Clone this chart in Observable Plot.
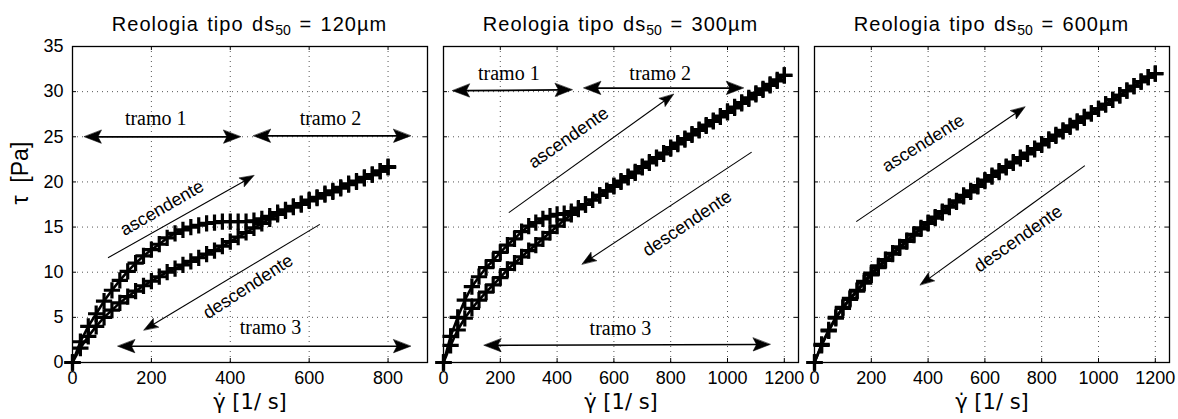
<!DOCTYPE html>
<html><head><meta charset="utf-8">
<script src="https://cdn.jsdelivr.net/npm/d3@7"></script>
<script src="https://cdn.jsdelivr.net/npm/@observablehq/plot@0.6"></script>
<style>
body{margin:0;background:#fff;}
#wrap{position:relative;width:1178px;height:419px;overflow:hidden;font-family:"Liberation Sans",Arial,sans-serif;color:#000;}
.panel{position:absolute;top:0;}
.title{height:40px;box-sizing:border-box;padding-top:12px;line-height:24px;font-size:20px;font-weight:normal;text-align:center;letter-spacing:1px;word-spacing:2px;white-space:nowrap;}
.title sub{font-size:14px;vertical-align:-4px;line-height:0;letter-spacing:0;}
</style></head>
<body><div id="wrap"></div>
<script>
// ---------- data ----------
const sizes = ["120µm", "300µm", "600µm"];
const yTicks = [0, 5, 10, 15, 20, 25, 30, 35];
const xTicks1 = [0, 200, 400, 600, 800];
const xTicks23 = [0, 200, 400, 600, 800, 1000, 1200];
const xLabel = "γ̇ [1/ s]";
const yLabel = "τ  [Pa]";

// ds50 = 120 µm
const shear1 = [0,20,40,60,80,100,120,140,160,180,200,220,240,260,280,300,320,340,360,380,400,420,440,460,480,500,520,540,560,580,600,620,640,660,680,700,720,740,760,780,800];
const up1 = [0,2.3,4.0,5.4,6.8,8.0,9.1,10.1,11.0,11.8,12.5,13.1,13.8,14.3,14.7,15.0,15.2,15.4,15.5,15.6,15.6,15.6,15.6,15.7,15.9,16.2,16.6,16.9,17.3,17.6,18.0,18.3,18.7,19.0,19.4,19.8,20.1,20.5,20.8,21.2,21.7];
const down1 = [0,1.6,2.9,4.0,5.0,5.8,6.6,7.3,7.9,8.5,9.0,9.5,10.0,10.4,10.8,11.2,11.6,12.0,12.4,12.9,13.4,13.9,14.4,14.9,15.4,15.9,16.4,16.8,17.2,17.5,17.9,18.2,18.6,18.9,19.3,19.7,20.0,20.4,20.8,21.2,21.6];

// ds50 = 300 µm
const shear2 = [0,25,50,75,100,125,150,175,200,225,250,275,300,325,350,375,400,425,450,475,500,525,550,575,600,625,650,675,700,725,750,775,800,825,850,875,900,925,950,975,1000,1025,1050,1075,1100,1125,1150,1175,1200];
const up2 = [0,2.9,5.0,6.9,8.4,9.5,10.5,11.3,12.2,13.0,13.7,14.5,15.1,15.5,15.9,16.2,16.4,16.5,16.7,17.1,17.5,18.0,18.5,19.0,19.6,20.1,20.6,21.1,21.7,22.2,22.7,23.2,23.8,24.3,24.8,25.3,25.8,26.3,26.8,27.3,27.8,28.3,28.8,29.3,29.8,30.3,30.8,31.3,31.8];
const down2 = [0,1.9,3.6,4.9,6.0,6.9,7.8,8.6,9.4,10.3,11.0,11.7,12.4,13.0,13.7,14.4,15.1,15.8,16.4,17.0,17.5,18.0,18.5,19.0,19.5,20.0,20.5,21.0,21.6,22.1,22.6,23.1,23.7,24.2,24.7,25.2,25.7,26.2,26.7,27.2,27.7,28.2,28.7,29.2,29.7,30.2,30.7,31.2,31.8];

// ds50 = 600 µm
const shear3 = [0,25,50,75,100,125,150,175,200,225,250,275,300,325,350,375,400,425,450,475,500,525,550,575,600,625,650,675,700,725,750,775,800,825,850,875,900,925,950,975,1000,1025,1050,1075,1100,1125,1150,1175,1200];
const up3 = [0,2.0,3.6,5.0,6.1,7.1,8.0,9.0,9.9,10.7,11.4,12.1,12.8,13.5,14.2,14.9,15.5,16.1,16.7,17.3,17.9,18.5,19.0,19.6,20.2,20.7,21.2,21.7,22.2,22.7,23.2,23.7,24.2,24.7,25.2,25.7,26.2,26.7,27.2,27.6,28.1,28.6,29.1,29.6,30.1,30.6,31.1,31.6,32.0];
const down3 = [0,1.9,3.5,4.9,6.0,7.0,7.9,8.8,9.7,10.5,11.3,12.0,12.7,13.4,14.1,14.8,15.4,16.0,16.6,17.2,17.8,18.4,18.9,19.5,20.1,20.6,21.1,21.6,22.1,22.6,23.1,23.6,24.1,24.6,25.1,25.6,26.1,26.6,27.1,27.6,28.1,28.6,29.1,29.6,30.1,30.6,31.1,31.6,32.0];

// annotations (data coordinates)
const arrows1 = [
  {x1:30, y1:25.0, x2:426, y2:25.0, both:true},
  {x1:459, y1:25.1, x2:857, y2:25.1, both:true},
  {x1:115, y1:1.8, x2:857, y2:1.8, both:true},
  {x1:90, y1:11.6, x2:460, y2:20.7},
  {x1:627, y1:15.3, x2:181, y2:3.6}
];
const tramo1 = [{x:211, y:27.0, text:"tramo 1"}, {x:654, y:27.0, text:"tramo 2"}, {x:502, y:3.9, text:"tramo 3"}];
const words1 = [{x:227, y:17.1, text:"ascendente"}, {x:445, y:8.4, text:"descendente"}];

const arrows2 = [
  {x1:32, y1:30.1, x2:453, y2:30.2, both:true},
  {x1:494, y1:30.4, x2:1056, y2:30.4, both:true},
  {x1:143, y1:1.9, x2:1150, y2:2.0, both:true},
  {x1:230, y1:16.6, x2:810, y2:29.7},
  {x1:1085, y1:23.3, x2:488, y2:10.9}
];
const tramo2 = [{x:230, y:32.0, text:"tramo 1"}, {x:763, y:32.0, text:"tramo 2"}, {x:623, y:3.8, text:"tramo 3"}];
const words2 = [{x:440, y:24.9, text:"ascendente"}, {x:858, y:15.4, text:"descendente"}];

const arrows3 = [
  {x1:147, y1:15.6, x2:741, y2:28.3},
  {x1:952, y1:21.8, x2:372, y2:8.6}
];
const tramo3 = [];
const words3 = [{x:383, y:24.3, text:"ascendente"}, {x:717, y:13.7, text:"descendente"}];

// ---------- layout ----------
const panels = [
  {size:sizes[0], left:0, width:435, mL:72, mR:8, xMax:900, xTicks:xTicks1, showY:true,
   series:[{x:shear1, y:up1}, {x:shear1, y:down1}], arrows:arrows1, tramo:tramo1, words:words1, angles:[-30, -33]},
  {size:sizes[1], left:435, width:372, mL:8, mR:9, xMax:1250, xTicks:xTicks23, showY:false,
   series:[{x:shear2, y:up2}, {x:shear2, y:down2}], arrows:arrows2, tramo:tramo2, words:words2, angles:[-35, -34]},
  {size:sizes[2], left:807, width:371, mL:7, mR:9, xMax:1250, xTicks:xTicks23, showY:false,
   series:[{x:shear3, y:up3}, {x:shear3, y:down3}], arrows:arrows3, tramo:tramo3, words:words3, angles:[-32, -35]}
];

const SANS = "'Liberation Sans', Arial, sans-serif";
const SERIF = "'Liberation Serif', 'Times New Roman', serif";
const LABELFONT = "'DejaVu Sans', 'Liberation Sans', sans-serif";

function buildPanel(cfg, extra) {
  const tx = cfg.xMax * 4 / (cfg.width - cfg.mL - cfg.mR);
  const ty = 35 * 4 / 316;
  const marks = [
    Plot.ruleX(cfg.xTicks.filter(d => d > 0), {stroke:"#555", strokeWidth:1, strokeDasharray:"1,4"}),
    Plot.ruleY(yTicks.filter(d => d > 0 && d < 35), {stroke:"#555", strokeWidth:1, strokeDasharray:"1,4"}),
    Plot.ruleX(cfg.xTicks, {y1:0, y2:ty, stroke:"black"}),
    Plot.ruleX(cfg.xTicks, {y1:35 - ty, y2:35, stroke:"black"}),
    Plot.ruleY(yTicks, {x1:0, x2:tx, stroke:"black"}),
    Plot.ruleY(yTicks, {x1:cfg.xMax - tx, x2:cfg.xMax, stroke:"black"})
  ];
  cfg.series.forEach(s => {
    const rows = s.x.map((x, i) => ({x, y: s.y[i]}));
    marks.push(Plot.line(rows, {x:"x", y:"y", stroke:"black", strokeWidth:2.6}));
    marks.push(Plot.dot(rows, {x:"x", y:"y", symbol:"plus", r:5.3, stroke:"black", strokeWidth:3.2}));
  });
  marks.push(Plot.text(cfg.tramo, {x:"x", y:"y", text:"text", fontFamily:SERIF, fontSize:20, fill:"black"}));
  cfg.words.forEach((w, i) => {
    marks.push(Plot.text([w], {x:"x", y:"y", text:"text", rotate:cfg.angles[i], fontFamily:SANS, fontSize:18, fill:"black"}));
  });
  marks.push(...extra);
  marks.push(Plot.frame({stroke:"black", strokeWidth:1.3}));
  marks.push(Plot.text([xLabel], {frameAnchor:"bottom", dy:46, text:d => d, fontFamily:LABELFONT, fontSize:21, fill:"black"}));
  if (cfg.showY) marks.push(Plot.text([yLabel], {frameAnchor:"left", dx:-52, rotate:-90, text:d => d, fontFamily:SANS, fontSize:23, fill:"black"}));
  return Plot.plot({
    width: cfg.width, height: 379,
    marginLeft: cfg.mL, marginRight: cfg.mR, marginTop: 6, marginBottom: 57,
    x: {domain:[0, cfg.xMax], ticks:cfg.xTicks, tickFormat:d => String(d), tickSize:0, tickPadding:9, label:null},
    y: {domain:[0, 35], ticks:yTicks, tickFormat:d => String(d), tickSize:0, tickPadding:9, label:null, axis: cfg.showY ? "left" : null},
    style: {fontSize:"18px", fontFamily:SANS, background:"transparent", overflow:"visible", color:"black"},
    marks
  });
}

function arrowMarks(list, sx, sy) {
  const shafts = [], heads = [];
  let id = 0;
  list.forEach(a => {
    const P1 = [sx.apply(a.x1), sy.apply(a.y1)];
    const P2 = [sx.apply(a.x2), sy.apply(a.y2)];
    const dx = P2[0] - P1[0], dy = P2[1] - P1[1];
    const L = Math.hypot(dx, dy);
    const u = [dx / L, dy / L], n = [-u[1], u[0]];
    const len = a.both ? 17 : 14, hw = a.both ? 6.5 : 5;
    const head = (tip, d) => {
      const pts = [
        tip,
        [tip[0] - d[0]*len + n[0]*hw, tip[1] - d[1]*len + n[1]*hw],
        [tip[0] - d[0]*len*0.8, tip[1] - d[1]*len*0.8],
        [tip[0] - d[0]*len - n[0]*hw, tip[1] - d[1]*len - n[1]*hw]
      ];
      pts.forEach(p => heads.push({x: sx.invert(p[0]), y: sy.invert(p[1]), id}));
      id++;
      return [tip[0] - d[0]*len*0.7, tip[1] - d[1]*len*0.7];
    };
    const e2 = head(P2, u);
    const e1 = a.both ? head(P1, [-u[0], -u[1]]) : P1;
    shafts.push({x1: sx.invert(e1[0]), y1: sy.invert(e1[1]), x2: sx.invert(e2[0]), y2: sy.invert(e2[1]), bold: !!a.both});
  });
  return [
    Plot.link(shafts.filter(s => s.bold), {x1:"x1", y1:"y1", x2:"x2", y2:"y2", stroke:"black", strokeWidth:1.7}),
    Plot.link(shafts.filter(s => !s.bold), {x1:"x1", y1:"y1", x2:"x2", y2:"y2", stroke:"black", strokeWidth:1.1}),
    Plot.line(heads, {x:"x", y:"y", z:"id", fill:"black", stroke:"black", strokeWidth:0.6, curve:"linear-closed"})
  ];
}

const wrap = document.getElementById("wrap");
panels.forEach(cfg => {
  const first = buildPanel(cfg, []);
  const sx = first.scale("x"), sy = first.scale("y");
  const chart = buildPanel(cfg, arrowMarks(cfg.arrows, sx, sy));
  const div = document.createElement("div");
  div.className = "panel";
  div.style.left = cfg.left + "px";
  div.style.width = cfg.width + "px";
  const t = document.createElement("div");
  t.className = "title";
  t.style.paddingLeft = cfg.mL + "px";
  t.style.paddingRight = cfg.mR + "px";
  t.innerHTML = "Reologia tipo ds<sub>50</sub> = " + cfg.size;
  div.appendChild(t);
  div.appendChild(chart);
  wrap.appendChild(div);
});
</script>
</body></html>
